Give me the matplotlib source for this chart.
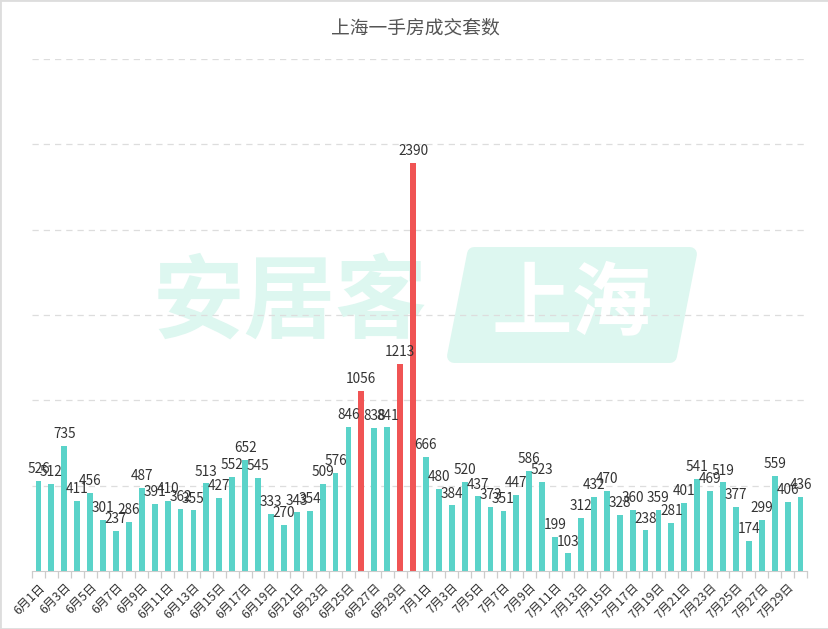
import matplotlib
matplotlib.use("Agg")
import matplotlib.pyplot as plt
from matplotlib.patches import Polygon
import numpy as np

plt.rcParams['font.family'] = ['Noto Sans CJK SC', 'DejaVu Sans']

title = "上海一手房成交套数"
june_values = [526, 512, 735, 411, 456, 301, 237, 286, 487, 391,
               410, 362, 355, 513, 427, 552, 652, 545, 333, 270,
               343, 354, 509, 576, 846, 1056, 838, 841, 1213, 2390]
july_values = [666, 480, 384, 520, 437, 373, 351, 447, 586, 523,
               199, 103, 312, 432, 470, 328, 360, 238, 359, 281,
               401, 541, 469, 519, 377, 174, 299, 559, 406, 436]
dates = [f"6月{d}日" for d in range(1, 31)] + [f"7月{d}日" for d in range(1, 31)]
values = june_values + july_values
highlight = ["6月26日", "6月29日", "6月30日"]

teal = "#5AD3C9"
red = "#F05454"

W, H = 829, 629
fig = plt.figure(figsize=(W / 100, H / 100), dpi=100)
fig.patch.set_facecolor("white")
ax = fig.add_axes([32 / W, 1 - 571 / H, (807 - 32) / W, (571 - 59) / H])
ax.patch.set_alpha(0)

x = np.arange(len(values))
colors = [red if d in highlight else teal for d in dates]
ax.bar(x, values, width=0.45, color=colors, zorder=2)

for xi, v in zip(x, values):
    ax.annotate(str(v), (xi, v), xytext=(0, 3.5), textcoords="offset points",
                ha="center", va="bottom", fontsize=9.8, color="#333333", zorder=3)

ax.set_xlim(-0.5, len(values) - 0.5)
ax.set_ylim(0, 3000)
ax.set_yticks(np.arange(500, 3001, 500))
ax.yaxis.grid(True, linestyle=(0, (5, 4)), color="#dddddd", linewidth=0.9, zorder=1)
ax.tick_params(axis="y", left=False, labelleft=False)

ax.set_xticks(x[::2])
ax.set_xticklabels(dates[::2], rotation=45, ha="right", rotation_mode="anchor",
                   fontsize=8.8, color="#333333")
ax.set_xticks(np.arange(-0.5, len(values), 1), minor=True)
ax.tick_params(axis="x", which="major", length=0, pad=7)
ax.tick_params(axis="x", which="minor", length=5, color="#cccccc", width=0.9)

for s in ["top", "right", "left"]:
    ax.spines[s].set_visible(False)
ax.spines["bottom"].set_color("#cccccc")

fig.text(415 / W, 1 - 28 / H, title, ha="center", va="center",
         fontsize=13.5, color="#555555")

# watermark
wm = "#DDF7F0"
ax.text(290 / W, 1 - 305 / H, "安居客", transform=fig.transFigure, ha="center",
        va="center", fontsize=66, fontweight="heavy", color=wm, zorder=0.2)
poly = Polygon([(474 / W, 1 - 254 / H), (690 / W, 1 - 254 / H),
                (670 / W, 1 - 356 / H), (454 / W, 1 - 356 / H)],
               closed=True, transform=fig.transFigure, facecolor=wm,
               edgecolor=wm, linewidth=10, joinstyle="round", zorder=0.2)
ax.add_artist(poly)
ax.text(572 / W, 1 - 305 / H, "上海", transform=fig.transFigure, ha="center",
        va="center", fontsize=58, fontweight="heavy", style="italic",
        color="white", zorder=0.3)

# border
border = plt.Rectangle((0, 0), 1, 1, transform=fig.transFigure, fill=False,
                       edgecolor="#dddddd", linewidth=2)
fig.patches.append(border)

fig.savefig("out.png", dpi=100)
